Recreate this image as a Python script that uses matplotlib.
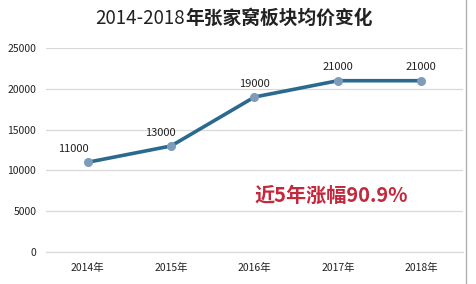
import matplotlib
matplotlib.use("Agg")
import matplotlib.pyplot as plt
from matplotlib.lines import Line2D

plt.rcParams['font.family'] = ['Noto Sans CJK SC', 'DejaVu Sans']

years = ['2014年', '2015年', '2016年', '2017年', '2018年']
prices = [11000, 13000, 19000, 21000, 21000]
yticks = [0, 5000, 10000, 15000, 20000, 25000]

fig = plt.figure(figsize=(4.76, 2.84), dpi=100)
ax = fig.add_axes([0.0966, 0.1127, 0.876, 0.718])

x = list(range(len(years)))
ax.plot(x, prices, color='#2b6a8f', linewidth=2.6, zorder=3,
        marker='o', markersize=5.5, markerfacecolor='#7d9bbb', markeredgecolor='#7d9bbb')

# data labels above the points
offsets = [(-10, 6), (-8, 6), (0, 6), (0, 6), (0, 6)]
for xi, v, off in zip(x, prices, offsets):
    ax.annotate(str(v), (xi, v), xytext=off, textcoords='offset points',
                ha='center', va='bottom', fontsize=8, color='#222222')

ax.set_xlim(-0.5, 4.5)
ax.set_ylim(0, 25000)
ax.set_yticks(yticks)
ax.set_xticks(x)
ax.set_xticklabels(years)
ax.tick_params(axis='both', length=0, labelsize=7.5, colors='#222222')
ax.tick_params(axis='x', pad=8)
ax.tick_params(axis='y', pad=7)
ax.grid(axis='y', color='#d9d9d9', linewidth=0.9)
ax.set_axisbelow(True)
for s in ['top', 'right', 'left']:
    ax.spines[s].set_visible(False)
ax.spines['bottom'].set_color('#d9d9d9')

ax.text(2.0, 6900, '近5年涨幅90.9%', color='#c4283c', fontsize=14.5,
        fontweight='bold', ha='left', va='center')

fig.text(185 / 476, 1 - 18 / 284, '2014-2018', fontsize=13.5, ha='right', va='center',
         color='#222222')
fig.text(185 / 476, 1 - 18 / 284, '年张家窝板块均价变化', fontsize=13.5, fontweight='bold',
         ha='left', va='center', color='#222222')

fig.add_artist(Line2D([466 / 476, 466 / 476], [0, 1], transform=fig.transFigure,
                      color='#b0b0b0', linewidth=1))

fig.savefig('out.png', dpi=100)
